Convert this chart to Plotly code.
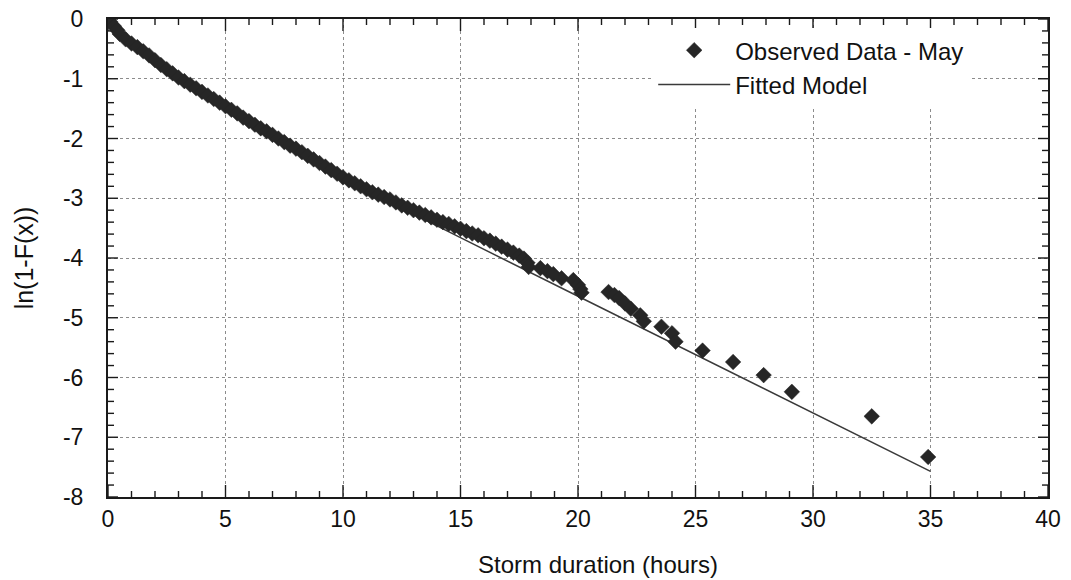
import plotly.graph_objects as go

# Observed storm-duration survival data for May: duration (hours) and ln(1-F(x))
obs_hours = [
    0.00, 0.10, 0.25, 0.40, 0.50, 0.75, 1.00, 1.25, 1.50, 1.75,
    2.00, 2.25, 2.50, 2.75, 3.00, 3.25, 3.50, 3.75, 4.00, 4.25,
    4.50, 4.75, 5.00, 5.25, 5.50, 5.75, 6.00, 6.25, 6.50, 6.75,
    7.00, 7.25, 7.50, 7.75, 8.00, 8.25, 8.50, 8.75, 9.00, 9.25,
    9.50, 9.75, 10.00, 10.25, 10.50, 10.75, 11.00, 11.25, 11.50, 11.75,
    12.00, 12.25, 12.50, 12.75, 13.00, 13.25, 13.50, 13.75, 14.00, 14.25,
    14.50, 14.75, 15.00, 15.25, 15.50, 15.75, 16.00, 16.25, 16.50, 16.75,
    17.00, 17.25, 17.50, 17.70, 17.85, 17.90, 18.40, 18.70, 18.95, 19.30,
    19.80, 20.00, 20.10, 20.15, 21.30, 21.55, 21.75, 22.00, 22.25, 22.65,
    22.80, 23.55, 24.00, 24.15, 25.30, 26.60, 27.90, 29.10, 32.50, 34.90,
]
obs_ln_surv = [
    0.00, -0.05, -0.12, -0.19, -0.25, -0.34, -0.41, -0.47, -0.54, -0.61,
    -0.69, -0.77, -0.84, -0.91, -0.98, -1.04, -1.10, -1.16, -1.22, -1.28,
    -1.34, -1.40, -1.46, -1.52, -1.58, -1.65, -1.71, -1.77, -1.83, -1.88,
    -1.94, -2.00, -2.06, -2.12, -2.17, -2.23, -2.29, -2.35, -2.41, -2.47,
    -2.53, -2.59, -2.65, -2.70, -2.75, -2.80, -2.85, -2.90, -2.94, -2.98,
    -3.02, -3.07, -3.12, -3.16, -3.20, -3.24, -3.28, -3.32, -3.36, -3.40,
    -3.43, -3.47, -3.51, -3.55, -3.59, -3.62, -3.67, -3.71, -3.76, -3.81,
    -3.86, -3.91, -3.96, -4.01, -4.08, -4.15, -4.17, -4.22, -4.27, -4.34,
    -4.37, -4.45, -4.52, -4.58, -4.57, -4.62, -4.67, -4.76, -4.85, -4.96,
    -5.06, -5.15, -5.26, -5.40, -5.55, -5.74, -5.96, -6.24, -6.65, -7.33,
]

# Fitted model curve
fit_hours = [0, 1, 2, 3, 4, 5, 6, 7, 8, 9, 10, 11, 12, 13, 14, 15, 20, 25, 30, 35]
fit_ln_surv = [0.00, -0.42, -0.70, -0.98, -1.22, -1.46, -1.71, -1.94, -2.17, -2.41,
               -2.65, -2.87, -3.07, -3.27, -3.47, -3.66, -4.64, -5.62, -6.60, -7.57]

x_ticks = [0, 5, 10, 15, 20, 25, 30, 35, 40]
y_ticks = [0, -1, -2, -3, -4, -5, -6, -7, -8]
x_minor_per_major = 5     # minor tick every 1 h
y_minor_per_major = 5     # minor tick every 0.2

FONT = "Liberation Sans, Arial, sans-serif"
INK = "#262626"
FRAME = "#1a1a1a"
x_range = [x_ticks[0], x_ticks[-1]]
y_range = [y_ticks[-1], y_ticks[0]]

W, H = 1071, 580
M_L, M_R, M_T, M_B = 108, 23, 19, 83
PLOT_W, PLOT_H = W - M_L - M_R, H - M_T - M_B


def subdivide(majors, parts):
    """Major and minor tick positions between consecutive major ticks."""
    out = []
    for a, b in zip(majors[:-1], majors[1:]):
        for k in range(parts):
            out.append((a + (b - a) * k / parts, k == 0))
    out.append((majors[-1], True))
    return out


# inward tick marks on all four frame edges, as one path with gaps
px_x = (x_range[1] - x_range[0]) / PLOT_W   # data units per pixel
px_y = (y_range[1] - y_range[0]) / PLOT_H
tick_x, tick_y = [], []
for xv, major in subdivide(x_ticks, x_minor_per_major):
    ln = (12 if major else 6) * px_y
    tick_x += [xv, xv, None, xv, xv, None]
    tick_y += [y_range[0], y_range[0] + ln, None, y_range[1], y_range[1] - ln, None]
for yv, major in subdivide(y_ticks, y_minor_per_major):
    ln = (10 if major else 6) * px_x
    tick_x += [x_range[0], x_range[0] + ln, None, x_range[1], x_range[1] - ln, None]
    tick_y += [yv, yv, None, yv, yv, None]

fig = go.Figure()
fig.add_trace(go.Scatter(
    x=tick_x, y=tick_y, mode="lines", showlegend=False, hoverinfo="skip",
    line=dict(color=FRAME, width=1.4), cliponaxis=False,
))
fig.add_trace(go.Scatter(
    x=fit_hours, y=fit_ln_surv, mode="lines", name="Fitted Model",
    line=dict(color="#3a3a3a", width=1.5),
))
fig.add_trace(go.Scatter(
    x=obs_hours, y=obs_ln_surv, mode="markers", name="Observed Data - May",
    marker=dict(symbol="diamond", size=12, color=INK,
                line=dict(color=INK, width=0.5)),
))

tick_font = dict(family=FONT, size=23, color="#111")
grid = dict(showgrid=True, gridcolor="#8c8c8c", gridwidth=1.3, griddash="dot")

fig.update_layout(
    xaxis=dict(
        range=x_range, tickvals=x_ticks, ticktext=[str(v) for v in x_ticks],
        showline=True, linecolor=FRAME, linewidth=2, mirror=True,
        ticks="", zeroline=False, tickfont=tick_font, **grid,
    ),
    yaxis=dict(
        range=y_range, tickvals=y_ticks, ticktext=[str(v) for v in y_ticks],
        showline=True, linecolor=FRAME, linewidth=2, mirror=True,
        ticks="", zeroline=False, tickfont=tick_font, ticklabelstandoff=18,
        title=dict(text="ln(1-F(x))", font=dict(family=FONT, size=25, color="#111"),
                   standoff=22),
        **grid,
    ),
)

# x-axis caption
fig.add_annotation(
    text="Storm duration (hours)", xref="paper", yref="paper",
    x=0.521, y=-0.142, xanchor="center", yanchor="middle", showarrow=False,
    font=dict(family=FONT, size=24, color="#111"),
)

fig.update_layout(
    width=W, height=H,
    margin=dict(l=M_L, r=M_R, t=M_T, b=M_B, autoexpand=False),
    paper_bgcolor="white", plot_bgcolor="white",
    font=dict(family=FONT, color="#111"),
    showlegend=True,
    legend=dict(
        x=0.58, y=0.981, xanchor="left", yanchor="top",
        bgcolor="white", borderwidth=0,
        font=dict(family=FONT, size=24, color="#111"),
        traceorder="reversed", itemwidth=72, tracegroupgap=0,
    ),
)

fig.write_html("out.html")
